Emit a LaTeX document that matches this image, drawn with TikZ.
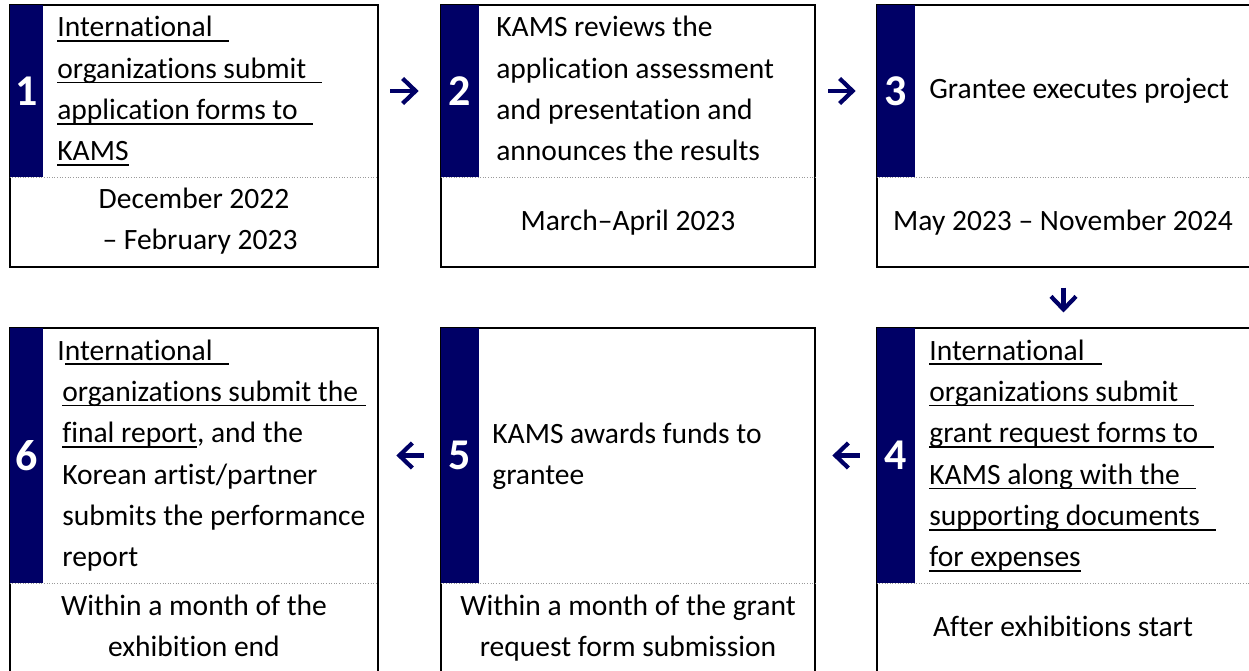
\documentclass[tikz,border=0pt]{standalone}
\usepackage{fontspec}
\setmainfont{Carlito}[Ligatures=NoCommon]
\usetikzlibrary{arrows.meta, fit}

\definecolor{barColor}{HTML}{000066}
\definecolor{sepColor}{HTML}{9A9A9A}

% underlined run of text, fixed depth
\newcommand{\ulrun}[1]{\setbox0=\hbox{#1}\rlap{\rule[-2.8pt]{\wd0}{0.9pt}}\box0}

\begin{document}
\begin{tikzpicture}[
    x=0.02cm, y=-0.02cm,
    boxline/.style={draw=black, line width=0.6pt, inner sep=0pt},
    head/.style={inner sep=0pt},
    bar/.style={fill=barColor, inner sep=0pt},
    num/.style={text=white, inner sep=0pt, font=\fontsize{25}{25}\selectfont\bfseries},
    steptext/.style={anchor=base west, align=left, inner sep=0pt, font=\fontsize{16.8}{23.56}\selectfont},
    datetext/.style={anchor=base, align=center, inner sep=0pt, font=\fontsize{16.8}{23.56}\selectfont},
    sepline/.style={draw=sepColor, densely dotted, line width=0.5pt},
    flow/.style={draw=barColor, line width=2.4pt, -{Straight Barb[length=0.26cm, width=0.5cm]}}
]

    \useasboundingbox (0,0) rectangle (1249,671);
    \clip (0,0) rectangle (1249,671);

    % (text nodes are placed at the baseline of their last line)

    % 1. Step 1
    \node[boxline, fit={(10,5)(378,267)}] (box1) {};
    \node[head, fit={(10,5)(378,177)}] (head1) {};
    \draw[sepline] (head1.south west) -- (head1.south east);
    \node[bar, fit={(10,5)(43,177)}] (bar1) {};
    \node[num] (num1) at (bar1) {1};
    \node[steptext] (txt1) at (57,161) {\ulrun{International\hspace{0.32cm}}\\
        \ulrun{organizations submit\hspace{0.32cm}}\\
        \ulrun{application forms to\hspace{0.3cm}}\\
        \ulrun{KAMS}};
    \node[datetext] (date1) at (194,250) {December 2022\\\hspace*{0.24cm}– February 2023};

    % 2. Step 2
    \node[boxline, fit={(441,5)(815,267)}] (box2) {};
    \node[head, fit={(441,5)(815,177)}] (head2) {};
    \draw[sepline] (head2.south west) -- (head2.south east);
    \node[bar, fit={(441,5)(479,177)}] (bar2) {};
    \node[num] (num2) at (bar2) {2};
    \node[steptext] (txt2) at (496,161) {KAMS reviews the\\
        application assessment\\
        and presentation and\\
        announces the results};
    \node[datetext] (date2) at (628,231) {March–April 2023};

    % 3. Step 3
    \node[boxline, fit={(877,5)(1250,267)}] (box3) {};
    \node[head, fit={(877,5)(1250,177)}] (head3) {};
    \draw[sepline] (head3.south west) -- (head3.south east);
    \node[bar, fit={(877,5)(915,177)}] (bar3) {};
    \node[num] (num3) at (bar3) {3};
    \node[steptext] (txt3) at (929,99) {Grantee executes project};
    \node[datetext] (date3) at (1063,231) {May 2023 – November 2024};

    % 4. Step 4
    \node[boxline, fit={(877,328)(1250,675)}] (box4) {};
    \node[head, fit={(877,328)(1250,583)}] (head4) {};
    \draw[sepline] (head4.south west) -- (head4.south east);
    \node[bar, fit={(877,328)(915,583)}] (bar4) {};
    \node[num] (num4) at (bar4) {4};
    \node[steptext] (txt4) at (929,567) {\ulrun{International\hspace{0.34cm}}\\
        \ulrun{organizations submit\hspace{0.32cm}}\\
        \ulrun{grant request forms to\hspace{0.32cm}}\\
        \ulrun{KAMS along with the\hspace{0.32cm}}\\
        \ulrun{supporting documents\hspace{0.32cm}}\\
        \ulrun{for expenses}};
    \node[datetext] (date4) at (1063,637) {After exhibitions start};

    % 5. Step 5
    \node[boxline, fit={(441,328)(815,675)}] (box5) {};
    \node[head, fit={(441,328)(815,583)}] (head5) {};
    \draw[sepline] (head5.south west) -- (head5.south east);
    \node[bar, fit={(441,328)(479,583)}] (bar5) {};
    \node[num] (num5) at (bar5) {5};
    \node[steptext] (txt5) at (492,485) {KAMS awards funds to\\grantee};
    \node[datetext] (date5) at (628,657) {Within a month of the grant\\request form submission};

    % 6. Step 6
    \node[boxline, fit={(10,328)(378,675)}] (box6) {};
    \node[head, fit={(10,328)(378,583)}] (head6) {};
    \draw[sepline] (head6.south west) -- (head6.south east);
    \node[bar, fit={(10,328)(43,583)}] (bar6) {};
    \node[num] (num6) at (bar6) {6};
    \node[steptext] (txt6) at (62,567) {\hspace*{-0.1cm}I\ulrun{nternational\hspace{0.32cm}}\\
        \ulrun{organizations submit the\hspace{0.16cm}}\\
        \ulrun{final report}, and the\\
        Korean artist/partner\\
        submits the performance\\
        report};
    \node[datetext] (date6) at (194,657) {Within a month of the\\exhibition end};

    % 7. Flow arrows
    \draw[flow, shorten <=0.24cm, shorten >=0.44cm] (head1.east) -- (head2.west);
    \draw[flow, shorten <=0.26cm, shorten >=0.42cm] (head2.east) -- (head3.west);
    \draw[flow, shorten <=0.40cm, shorten >=0.30cm] (box3.south) -- (box4.north);
    \draw[flow, shorten <=0.34cm, shorten >=0.34cm] (head4.west) -- (head5.east);
    \draw[flow, shorten <=0.34cm, shorten >=0.36cm] (head5.west) -- (head6.east);

\end{tikzpicture}
\end{document}
